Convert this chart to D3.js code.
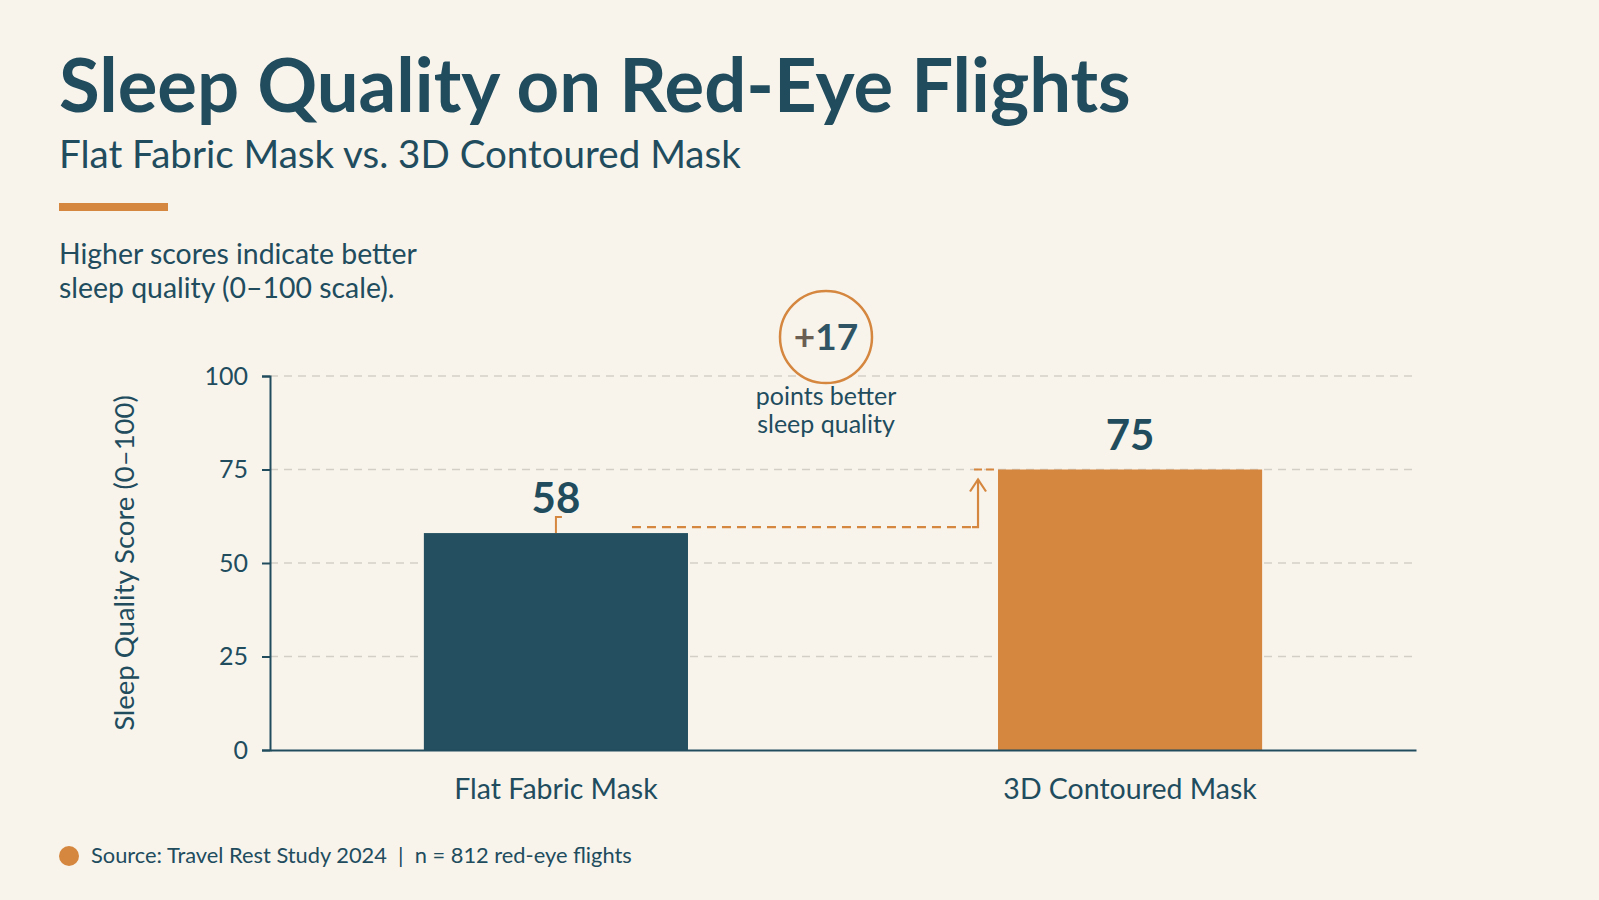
<!DOCTYPE html>
<html>
<head>
<meta charset="utf-8">
<script src="https://cdn.jsdelivr.net/npm/d3@7"></script>
<style>
  html, body { margin: 0; padding: 0; background: #f8f4ec; }
  svg { display: block; }
  text { font-family: Lato, "Open Sans", sans-serif; }
</style>
</head>
<body>
<div id="chart"></div>
<script>
// chart data
const categories = ['Flat Fabric Mask', '3D Contoured Mask']
const scores = [58, 75]
const yTicks = [0, 25, 50, 75, 100]
const yDomain = [0, 100]

const titleText = 'Sleep Quality on Red-Eye Flights'
const subtitleText = 'Flat Fabric Mask vs. 3D Contoured Mask'
const noteLines = ['Higher scores indicate better', 'sleep quality (0\u2013100 scale).']
const yTitle = 'Sleep Quality Score (0\u2013100)'
const calloutLines = ['points better', 'sleep quality']
const sourceText = 'Source: Travel Rest Study 2024  |  n = 812 red-eye flights'

const W = 1599, H = 900
const teal = '#214c5e'
const orange = '#d5873f'
const barColors = ['#234f60', '#d5873f']
const bg = '#f8f4ec'

const margin = { top: 376, right: 183, bottom: 150, left: 270 }

const svg = d3.select('#chart').append('svg')
    .attr('width', W)
    .attr('height', H)

svg.append('rect').attr('width', W).attr('height', H).attr('fill', bg)

// shrink or grow a text so it spans the given width
function fitText(sel, width) {
  const len = sel.node().getComputedTextLength()
  const fs = parseFloat(sel.attr('font-size'))
  sel.attr('font-size', fs * width / len)
  return fs * width / len
}

const title = svg.append('text')
    .attr('x', 59).attr('y', 112)
    .attr('font-size', 74)
    .attr('font-weight', 700)
    .attr('fill', teal)
    .text(titleText)
fitText(title, 1072)

const subtitle = svg.append('text')
    .attr('x', 59).attr('y', 168)
    .attr('font-size', 35)
    .attr('fill', teal)
    .text(subtitleText)
fitText(subtitle, 682)

svg.append('rect')
    .attr('x', 59).attr('y', 203)
    .attr('width', 109).attr('height', 8)
    .attr('fill', orange)

let noteSize = 26
noteLines.forEach(function(line, i) {
  const t = svg.append('text')
      .attr('x', 59).attr('y', 264 + i * 34)
      .attr('font-size', noteSize)
      .attr('fill', teal)
      .text(line)
  if (i == 0) noteSize = fitText(t, 358)
})

const x = d3.scaleBand()
    .domain(categories)
    .range([margin.left, W - margin.right])
    .paddingInner(0.54)
    .paddingOuter(0.268)

const y = d3.scaleLinear()
    .domain(yDomain)
    .range([H - margin.bottom, margin.top])

// grid
svg.append('g')
  .selectAll('line')
  .data(yTicks.filter(d => d > 0))
  .join('line')
    .attr('x1', margin.left)
    .attr('x2', W - margin.right)
    .attr('y1', d => y(d))
    .attr('y2', d => y(d))
    .attr('stroke', '#d3cec6')
    .attr('stroke-width', 1.5)
    .attr('stroke-dasharray', '8,6')

// bars
svg.append('g')
  .selectAll('rect')
  .data(scores)
  .join('rect')
    .attr('x', (d, i) => x(categories[i]))
    .attr('y', d => y(d))
    .attr('width', x.bandwidth())
    .attr('height', d => y(0) - y(d))
    .attr('fill', (d, i) => barColors[i])

// axes
const yAxis = svg.append('g')
    .attr('transform', `translate(${margin.left},0)`)
    .call(d3.axisLeft(y).tickValues(yTicks).tickSize(8).tickPadding(14))
yAxis.select('.domain').attr('stroke', teal).attr('stroke-width', 2)
yAxis.selectAll('.tick line').attr('stroke', teal).attr('stroke-width', 2)
yAxis.selectAll('.tick text')
    .attr('fill', teal)
    .attr('font-size', 25)
    .attr('font-family', 'Lato, sans-serif')

const xAxis = svg.append('g')
    .attr('transform', `translate(0,${y(0)})`)
    .call(d3.axisBottom(x).tickSize(0).tickPadding(29))
xAxis.select('.domain').attr('stroke', teal).attr('stroke-width', 2)
xAxis.selectAll('.tick text')
    .attr('fill', teal)
    .attr('font-size', 28.5)
    .attr('font-family', 'Lato, sans-serif')

svg.append('text')
    .attr('transform', `translate(134,${(y(0) + y(100)) / 2}) rotate(-90)`)
    .attr('text-anchor', 'middle')
    .attr('font-size', 27.5)
    .attr('fill', teal)
    .text(yTitle)

// value labels
svg.append('g')
  .selectAll('text')
  .data(scores)
  .join('text')
    .attr('x', (d, i) => x(categories[i]) + x.bandwidth() / 2)
    .attr('y', d => y(d) - 20)
    .attr('text-anchor', 'middle')
    .attr('font-size', 42)
    .attr('font-weight', 700)
    .attr('fill', teal)
    .text(d => d)

// connector from first bar to second bar
const c0 = x(categories[0]) + x.bandwidth() / 2
const lowY = y(scores[0]) - 6
const arrowX = x(categories[1]) - 20

svg.append('path')
    .attr('d', `M${c0},${y(scores[0])} V${lowY - 10} H${c0 + 6}`)
    .attr('fill', 'none')
    .attr('stroke', orange)
    .attr('stroke-width', 2)

svg.append('path')
    .attr('d', `M${x(categories[0]) + x.bandwidth() - 56},${lowY} H${arrowX - 6}`)
    .attr('fill', 'none')
    .attr('stroke', orange)
    .attr('stroke-width', 2.2)
    .attr('stroke-dasharray', '9,6')

// solid elbow and arrow up to the second bar
svg.append('path')
    .attr('d', `M${arrowX - 6},${lowY} H${arrowX} V${y(scores[1]) + 10}`)
    .attr('fill', 'none')
    .attr('stroke', orange)
    .attr('stroke-width', 2.2)

svg.append('path')
    .attr('d', `M${arrowX - 8},${y(scores[1]) + 22} L${arrowX},${y(scores[1]) + 10} L${arrowX + 8},${y(scores[1]) + 22}`)
    .attr('fill', 'none')
    .attr('stroke', orange)
    .attr('stroke-width', 2.2)

svg.append('line')
    .attr('x1', arrowX - 4).attr('x2', x(categories[1]))
    .attr('y1', y(scores[1])).attr('y2', y(scores[1]))
    .attr('stroke', orange)
    .attr('stroke-width', 2)
    .attr('stroke-dasharray', '8,4')

// difference callout
const cx = 826, cy = 337
svg.append('circle')
    .attr('cx', cx).attr('cy', cy).attr('r', 46)
    .attr('fill', bg)
    .attr('stroke', orange)
    .attr('stroke-width', 2.5)

const diff = svg.append('text')
    .attr('x', cx).attr('y', cy + 13)
    .attr('text-anchor', 'middle')
    .attr('font-size', 37)
    .attr('font-weight', 700)
diff.append('tspan').attr('fill', '#6a5f52').text('+')
diff.append('tspan').attr('fill', '#2f5564').text(scores[1] - scores[0])

calloutLines.forEach(function(line, i) {
  svg.append('text')
      .attr('x', cx).attr('y', 405 + i * 28)
      .attr('text-anchor', 'middle')
      .attr('font-size', 25)
      .attr('fill', teal)
      .text(line)
})

// footer
svg.append('circle')
    .attr('cx', 69).attr('cy', 856).attr('r', 10)
    .attr('fill', orange)

const src = svg.append('text')
    .attr('x', 91).attr('y', 863)
    .attr('font-size', 21)
    .attr('fill', teal)
    .attr('xml:space', 'preserve')
    .style('white-space', 'pre')
    .text(sourceText)
fitText(src, 541)
</script>
</body>
</html>
